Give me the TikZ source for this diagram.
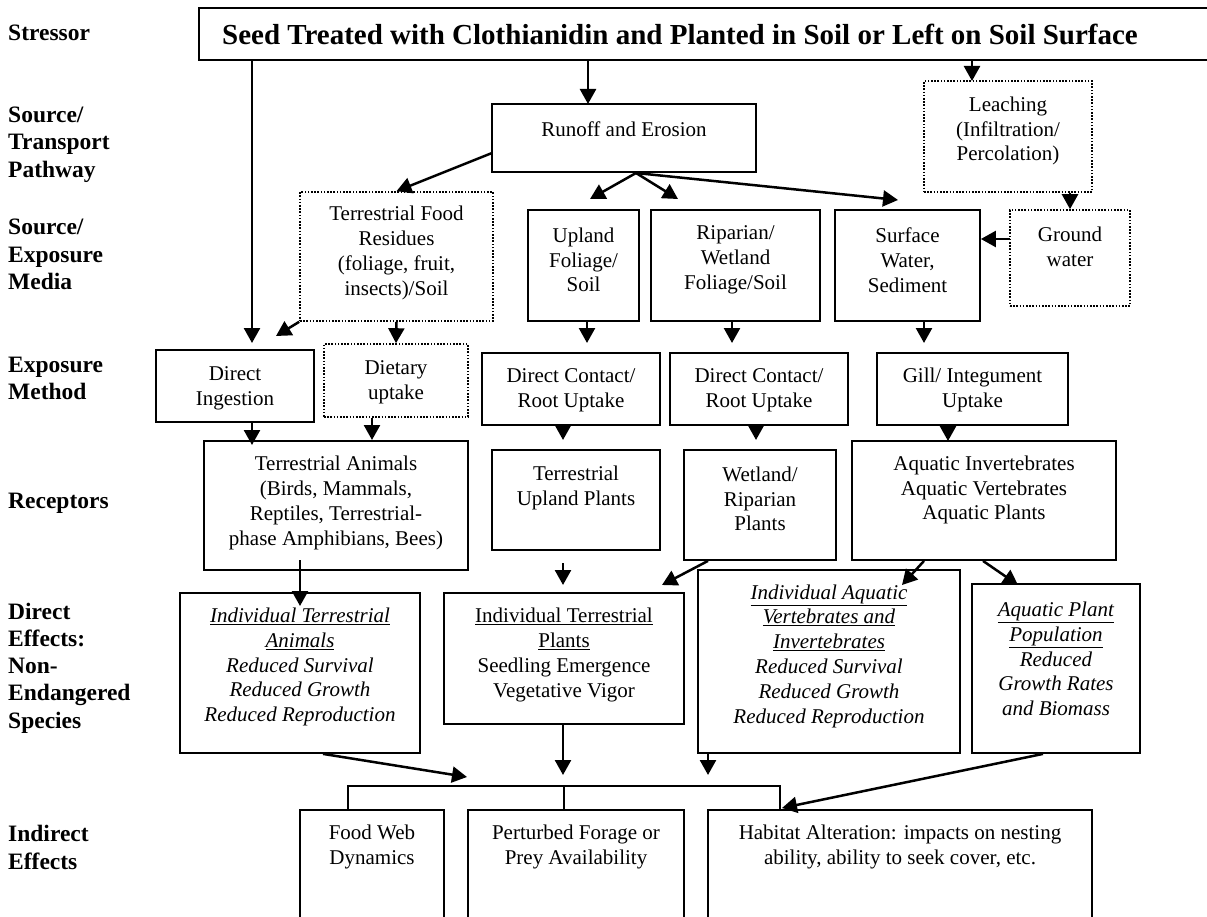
\documentclass[tikz,border=0pt]{standalone}
\usepackage{fontspec}
\setmainfont{Liberation Serif}
\usetikzlibrary{arrows.meta}
\tikzset{
  box/.style={draw, line width=1.8pt, rectangle, inner sep=0pt},
  dbox/.style={draw, line width=1.6pt, dash pattern=on 1.6pt off 1.6pt, rectangle, inner sep=0pt},
  txt/.style={align=center, inner sep=0pt, font=\fontsize{21}{24.8}\selectfont},
  lab/.style={align=left, inner sep=0pt, anchor=west, font=\fontsize{23.5}{27.3}\selectfont\bfseries},
  arr/.style={-{Triangle[length=15pt,width=16pt]}, line width=2.5pt},
  ln/.style={line width=2pt},
}
\begin{document}
\begin{tikzpicture}[x=1pt,y=-1pt]
\useasboundingbox (0,0) rectangle (1207,917);
\fill[white] (0,0) rectangle (1207,917);
\clip (0,0) rectangle (1207,917);

% left row labels
\node[lab] (l1) at (8,33) {Stressor};
\node[lab] (l2) at (8,144.5) {Source/\\Transport\\Pathway};
\node[lab] (l3) at (8,254.5) {Source/\\Exposure\\Media};
\node[lab] (l4) at (8,378.5) {Exposure\\Method};
\node[lab] (l5) at (8,503) {Receptors};
\node[lab] (l6) at (8,668) {Direct\\Effects:\\Non-\\Endangered\\Species};
\node[lab] (l7) at (8,847.5) {Indirect\\Effects};

% boxes
\node[box, minimum width=1016pt, minimum height=52pt] (top) at (707,34) {};
\node[font=\fontsize{29}{33}\selectfont\bfseries, inner sep=0pt] (top-t) at (680,34) {Seed Treated with Clothianidin and Planted in Soil or Left on Soil Surface};

\node[box, minimum width=264pt, minimum height=68pt] (runoff) at (624,138) {};
\node[txt] (runoff-t) at (624,129) {Runoff and Erosion};

\node[dbox, minimum width=168pt, minimum height=111pt] (leach) at (1008,136.5) {};
\node[txt] (leach-t) at (1008,131) {Leaching\\(Infiltration/\\Percolation)};

\node[dbox, minimum width=120pt, minimum height=96pt] (gw) at (1070,258) {};
\node[txt] (gw-t) at (1070,247) {Ground\\water};

\node[dbox, minimum width=193pt, minimum height=129pt] (tfr) at (396.5,256.5) {};
\node[txt] (tfr-t) at (396.5,253) {Terrestrial Food\\Residues\\(foliage, fruit,\\insects)/Soil};

\node[box, minimum width=111pt, minimum height=111pt] (upland) at (583.5,265.5) {};
\node[txt] (upland-t) at (583.5,260) {Upland\\Foliage/\\Soil};

\node[box, minimum width=169pt, minimum height=111pt] (riparian) at (735.5,265.5) {};
\node[txt] (riparian-t) at (735.5,260) {Riparian/\\Wetland\\Foliage/Soil};

\node[box, minimum width=145pt, minimum height=111pt] (sw) at (907.5,265.5) {};
\node[txt] (sw-t) at (907.5,260) {Surface\\Water,\\Sediment};

\node[box, minimum width=158pt, minimum height=72pt] (di) at (235,386) {};
\node[txt] (di-t) at (235,388) {Direct\\Ingestion};

\node[dbox, minimum width=144pt, minimum height=73pt] (du) at (396,380.5) {};
\node[txt] (du-t) at (396,382) {Dietary\\uptake};

\node[box, minimum width=178pt, minimum height=72pt] (dc1) at (571,389) {};
\node[txt] (dc1-t) at (571,390) {Direct Contact/\\Root Uptake};

\node[box, minimum width=178pt, minimum height=72pt] (dc2) at (759,389) {};
\node[txt] (dc2-t) at (759,390) {Direct Contact/\\Root Uptake};

\node[box, minimum width=191pt, minimum height=72pt] (gill) at (972.5,389) {};
\node[txt] (gill-t) at (972.5,390) {Gill/ Integument\\Uptake};

\node[box, minimum width=264pt, minimum height=129pt] (ta) at (336,505.5) {};
\node[txt] (ta-t) at (336,503) {Terrestrial Animals\\(Birds, Mammals,\\Reptiles, Terrestrial-\\phase Amphibians, Bees)};

\node[box, minimum width=168pt, minimum height=100pt] (tup) at (576,500) {};
\node[txt] (tup-t) at (576,488) {Terrestrial\\Upland Plants};

\node[box, minimum width=152pt, minimum height=110pt] (wrp) at (760,505) {};
\node[txt] (wrp-t) at (760,499) {Wetland/\\Riparian\\Plants};

\node[box, minimum width=264pt, minimum height=119pt] (aq) at (984,500.5) {};
\node[txt] (aq-t) at (984,490) {Aquatic Invertebrates\\Aquatic Vertebrates\\Aquatic Plants};

\node[box, minimum width=240pt, minimum height=160pt] (ita) at (300,673) {};
\node[txt] (ita-t) at (300,667) {\underline{\textit{Individual Terrestrial}}\\\underline{\textit{Animals}}\\\textit{Reduced Survival}\\\textit{Reduced Growth}\\\textit{Reduced Reproduction}};

\node[box, minimum width=240pt, minimum height=131pt] (itp) at (564,658.5) {};
\node[txt] (itp-t) at (564,655) {\underline{Individual Terrestrial}\\\underline{Plants}\\Seedling Emergence\\Vegetative Vigor};

\node[box, minimum width=262pt, minimum height=183pt] (iav) at (829,661.5) {};
\node[txt] (iav-t) at (829,656) {\underline{\textit{Individual Aquatic}}\\\underline{\textit{Vertebrates and}}\\\underline{\textit{Invertebrates}}\\\textit{Reduced Survival}\\\textit{Reduced Growth}\\\textit{Reduced Reproduction}};

\node[box, minimum width=168pt, minimum height=169pt] (apop) at (1056,668.5) {};
\node[txt] (apop-t) at (1056,659) {\underline{\textit{Aquatic Plant}}\\\underline{\textit{Population}}\\\textit{Reduced}\\\textit{Growth Rates}\\\textit{and Biomass}};

\node[box, minimum width=144pt, minimum height=130pt] (fw) at (372,875) {};
\node[txt] (fw-t) at (372,847) {Food Web\\Dynamics};

\node[box, minimum width=216pt, minimum height=130pt] (pf) at (576,875) {};
\node[txt] (pf-t) at (576,847) {Perturbed Forage or\\Prey Availability};

\node[box, minimum width=384pt, minimum height=130pt] (ha) at (900,875) {};
\node[txt] (ha-t) at (900,847) {Habitat Alteration: impacts on nesting\\ability, ability to seek cover, etc.};

% coordinates for free ends
\coordinate (e1) at (252,343);
\coordinate (e2) at (588,104);
\coordinate (e3) at (972,81);
\coordinate (s5) at (1010,239);
\coordinate (s6) at (492,153);
\coordinate (fork) at (636,173);
\coordinate (e7) at (590,199);
\coordinate (e8) at (678,199);
\coordinate (e9) at (898,200);
\coordinate (e10) at (276,336);
\coordinate (e12) at (587,343);
\coordinate (e13) at (732,343);
\coordinate (e14) at (924,343);
\coordinate (e15) at (252,445);
\coordinate (e16) at (372,440);
\coordinate (e17) at (563,440);
\coordinate (e18) at (756,440);
\coordinate (e19) at (948,441);
\coordinate (s20) at (300,560);
\coordinate (e20) at (300,606);
\coordinate (s21) at (563,563);
\coordinate (e21) at (563,585);
\coordinate (s22) at (708,560);
\coordinate (e22) at (662,585);
\coordinate (s23) at (924,560);
\coordinate (e23) at (902,585);
\coordinate (s24) at (983,560);
\coordinate (e24) at (1018,585);
\coordinate (s25) at (323,753);
\coordinate (e25) at (467,777);
\coordinate (e26) at (563,775);
\coordinate (e27) at (708,775);
\coordinate (s28) at (1043,753);
\coordinate (e28) at (782,808);
\coordinate (b1) at (348,786);
\coordinate (b2) at (564,786);
\coordinate (b3) at (780,786);

% connectors
\draw[arr] (top.south -| e1) -- (e1);
\draw[arr] (top.south -| e2) -- (e2);
\draw[arr] (top.south -| e3) -- (e3);
\draw[arr] (leach.south -| gw.north) -- (gw.north);
\draw[arr] (s5) -- (s5 -| sw.east);
\draw[arr] (s6) -- (tfr.north);
\draw[arr] (fork) -- (e7);
\draw[arr] (fork) -- (e8);
\draw[arr] (fork) -- (e9);
\draw[arr] (tfr.south west) -- (e10);
\draw[arr] (tfr.south) -- (du.north);
\draw[arr] (upland.south -| e12) -- (e12);
\draw[arr] (riparian.south -| e13) -- (e13);
\draw[arr] (sw.south -| e14) -- (e14);
\draw[arr] (di.south -| e15) -- (e15);
\draw[arr] (du.south -| e16) -- (e16);
\draw[arr] (dc1.south -| e17) -- (e17);
\draw[arr] (dc2.south -| e18) -- (e18);
\draw[arr] (gill.south -| e19) -- (e19);
\draw[arr] (s20) -- (e20);
\draw[arr] (s21) -- (e21);
\draw[arr] (wrp.south -| s22) -- (e22);
\draw[arr] (aq.south -| s23) -- (e23);
\draw[arr] (aq.south -| s24) -- (e24);
\draw[arr] (ita.south -| s25) -- (e25);
\draw[arr] (itp.south -| e26) -- (e26);
\draw[arr] (iav.south -| e27) -- (e27);
\draw[arr] (apop.south -| s28) -- (e28);

% bracket
\draw[ln] (fw.north -| b1) -- (b1) -- (b3) -- (ha.north -| b3);
\draw[ln] (b2) -- (pf.north -| b2);
\end{tikzpicture}
\end{document}
